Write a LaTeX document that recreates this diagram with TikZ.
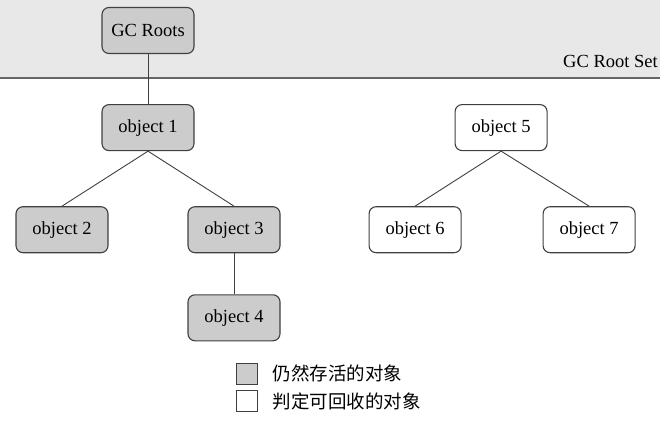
\documentclass[tikz,border=0pt]{standalone}
\usepackage{fontspec}
\setmainfont{Liberation Serif}
\newfontfamily\cjk{Noto Sans CJK SC}
\usepackage{tikz}
\usetikzlibrary{positioning}

\definecolor{liveobj}{gray}{0.80}
\definecolor{rootband}{gray}{0.91}
\definecolor{boxline}{gray}{0.25}

\begin{document}
\begin{tikzpicture}[x=1pt, y=1pt,
    objbox/.style={rectangle, draw=boxline, line width=1.1pt, rounded corners=7pt,
                   minimum width=92pt, minimum height=46pt, inner sep=0pt,
                   font=\fontsize{18.5}{20}\selectfont},
    live/.style={objbox, fill=liveobj},
    dead/.style={objbox, fill=white},
    edge/.style={draw=boxline, line width=0.9pt},
    keybox/.style={rectangle, draw=boxline, line width=0.8pt, minimum width=21pt,
                   minimum height=21pt, inner sep=0pt},
    keytext/.style={font=\cjk\fontsize{18.5}{20}\selectfont, anchor=west}]
    \useasboundingbox (0,0) rectangle (660,-420);

    % Root set band at the top
    \fill[rootband] (0,0) rectangle (660,-78);
    \draw[line width=1.6pt, gray!80!black] (0,-78) -- (660,-78);
    \node[font=\fontsize{18.5}{20}\selectfont, anchor=base east, inner sep=0pt]
        (rootset) at (658,-67) {GC Root Set};

    % Reachable objects
    \node[live] (roots) at (148,-30.5) {GC Roots};
    \node[live, below=50pt of roots] (obj1) {object 1};
    \node[live, below=55pt of obj1, xshift=-86pt] (obj2) {object 2};
    \node[live, below=55pt of obj1, xshift=86pt] (obj3) {object 3};
    \node[live, below=41pt of obj3] (obj4) {object 4};

    % Unreachable objects
    \node[dead, right=260pt of obj1] (obj5) {object 5};
    \node[dead, below=55pt of obj5, xshift=-86pt] (obj6) {object 6};
    \node[dead, below=55pt of obj5, xshift=88pt] (obj7) {object 7};

    % References
    \draw[edge] (roots) -- (obj1);
    \draw[edge] (obj1.south) -- (obj2.north);
    \draw[edge] (obj1.south) -- (obj3.north);
    \draw[edge] (obj3) -- (obj4);
    \draw[edge] (obj5.south) -- (obj6.north);
    \draw[edge] (obj5.south) -- (obj7.north);

    % Legend
    \node[keybox, fill=liveobj] (keylive) at (246.5,-373.5) {};
    \node[keybox, fill=white, below=6pt of keylive] (keydead) {};
    \node[keytext, right=12pt of keylive] (livetext) {仍然存活的对象};
    \node[keytext, right=12pt of keydead] (deadtext) {判定可回收的对象};
\end{tikzpicture}
\end{document}
